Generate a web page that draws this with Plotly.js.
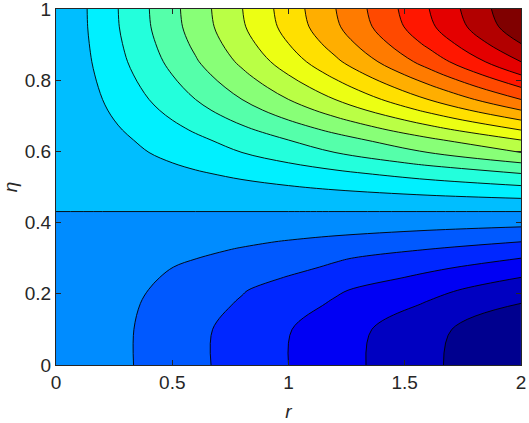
<!DOCTYPE html>
<html>
<head>
<meta charset="utf-8">
<script src="https://cdn.plot.ly/plotly-3.0.1.min.js"></script>
<style>
    html, body { margin: 0; padding: 0; background: #fff; }
    #chart { width: 529px; height: 423px; }
</style>
</head>
<body>
<div id="chart"></div>
<script>
// Filas (eta) y columnas (r) de la malla
const etaRows = [0, 0.10, 0.173, 0.21, 0.246, 0.275, 0.30, 0.325, 0.346, 0.388, 0.431,
    0.468, 0.504, 0.538, 0.568, 0.597, 0.632, 0.660, 0.688, 0.716,
    0.746, 0.780, 0.815, 0.852, 0.903, 0.95, 1.0];
const rCols = [0, 0.2, 0.4, 0.6, 0.8, 1.0, 1.2, 1.6, 2.0];

const zAtR02 = [-0.6, -0.598, -0.56, -0.512, -0.466, -0.416, -0.348, -0.274, -0.224, -0.107, 0,
    0.1, 0.2, 0.3, 0.4, 0.5, 0.6, 0.7, 0.8, 0.9,
    1.0, 1.1, 1.2, 1.3, 1.4, 1.47, 1.495];
const zAtR04 = [-1.2, -1.194, -1.10, -1.01, -0.91, -0.812, -0.68, -0.544, -0.44, -0.212, 0,
    0.2, 0.4, 0.6, 0.8, 1.0, 1.2, 1.4, 1.6, 1.8,
    2.0, 2.2, 2.4, 2.6, 2.8, 2.94, 2.99];
const zAtR06 = [-1.8, -1.785, -1.61, -1.48, -1.30, -1.17, -0.984, -0.804, -0.651, -0.315, 0,
    0.3, 0.6, 0.9, 1.2, 1.5, 1.8, 2.1, 2.4, 2.7,
    3.0, 3.3, 3.6, 3.9, 4.2, 4.41, 4.485];
const zAtR08 = [-2.4, -2.37, -2.09, -1.94, -1.68, -1.48, -1.27, -1.056, -0.856, -0.416, 0,
    0.4, 0.8, 1.2, 1.6, 2.0, 2.4, 2.8, 3.2, 3.6,
    4.0, 4.4, 4.8, 5.2, 5.6, 5.88, 5.98];
const zAtR10 = [-3.0, -2.955, -2.595, -2.41, -2.04, -1.78, -1.585, -1.29, -1.06, -0.515, 0,
    0.5, 1.0, 1.5, 2.0, 2.5, 3.0, 3.5, 4.0, 4.5,
    5.0, 5.5, 6.0, 6.5, 7.0, 7.35, 7.475];
const zAtR12 = [-3.6, -3.54, -3.10, -2.88, -2.42, -2.11, -1.90, -1.524, -1.26, -0.612, 0,
    0.6, 1.2, 1.8, 2.4, 3.0, 3.6, 4.2, 4.8, 5.4,
    6.0, 6.6, 7.2, 7.8, 8.4, 8.82, 8.97];
const zAtR16 = [-4.8, -4.70, -4.06, -3.74, -3.2, -2.79, -2.46, -2.0, -1.64, -0.808, 0,
    0.8, 1.6, 2.4, 3.2, 4.0, 4.8, 5.6, 6.4, 7.2,
    8.0, 8.8, 9.6, 10.4, 11.2, 11.76, 11.96];
const zAtR20 = [-6, -5.87, -5.0, -4.55, -4.0, -3.46, -3.0, -2.46, -2.0, -1.0, 0,
    1, 2, 3, 4, 5, 6, 7, 8, 9,
    10, 11, 12, 13, 14, 14.7, 14.95];

// Niveles de contorno
const levelStart = -5;
const levelEnd = 14;
const levelStep = 1;

const xTicks = [0, 0.5, 1, 1.5, 2];
const yTicks = [0, 0.2, 0.4, 0.6, 0.8, 1];

// En r = 0 el valor es 0; se conserva solo el signo para que la linea cero no siga el borde
const zAtR0 = zAtR20.map(v => Math.sign(v) * 1e-6);

// Matriz z: una fila por eta, una columna por r
const zGrid = etaRows.map((_, i) => [zAtR0[i], zAtR02[i], zAtR04[i], zAtR06[i],
    zAtR08[i], zAtR10[i], zAtR12[i], zAtR16[i], zAtR20[i]]);

// Mapa de color tipo jet (MATLAB)
const jet = [
    [0, 'rgb(0,0,143)'],
    [0.111, 'rgb(0,0,255)'],
    [0.365, 'rgb(0,255,255)'],
    [0.619, 'rgb(255,255,0)'],
    [0.873, 'rgb(255,0,0)'],
    [1, 'rgb(128,0,0)']
];

const axisColor = '#262626';
const tickFont = { family: 'Liberation Sans, Arial, sans-serif', size: 19, color: axisColor };

const data = [{
    type: 'contour',
    x: rCols,
    y: etaRows,
    z: zGrid,
    colorscale: jet,
    showscale: false,
    autocontour: false,
    contours: { start: levelStart, end: levelEnd, size: levelStep, coloring: 'fill' },
    line: { color: '#000', width: 0.9, smoothing: 1 },
    hoverinfo: 'skip'
}];

const axisBase = {
    showgrid: false,
    zeroline: false,
    showline: true,
    linecolor: axisColor,
    linewidth: 1,
    mirror: 'allticks',
    ticks: 'inside',
    ticklen: 5,
    tickwidth: 1,
    tickcolor: axisColor,
    tickfont: tickFont,
    ticklabeloverflow: 'allow',
    layer: 'above traces'
};

const layout = {
    width: 529,
    height: 423,
    margin: { l: 56, r: 8, t: 9, b: 58 },
    paper_bgcolor: '#fff',
    plot_bgcolor: '#fff',
    showlegend: false,
    xaxis: Object.assign({}, axisBase, {
        range: [-0.0002, 2.0002],
        tickvals: xTicks,
        ticktext: xTicks.map(String),
        title: { text: '<i>r</i>', font: tickFont, standoff: 12 }
    }),
    yaxis: Object.assign({}, axisBase, {
        range: [-0.0001, 1.0001],
        tickvals: yTicks,
        ticktext: yTicks.map(String),
        title: { text: '<i>η</i>', font: tickFont, standoff: 5 }
    })
};

Plotly.newPlot('chart', data, layout, { displayModeBar: false, staticPlot: true });
</script>
</body>
</html>
